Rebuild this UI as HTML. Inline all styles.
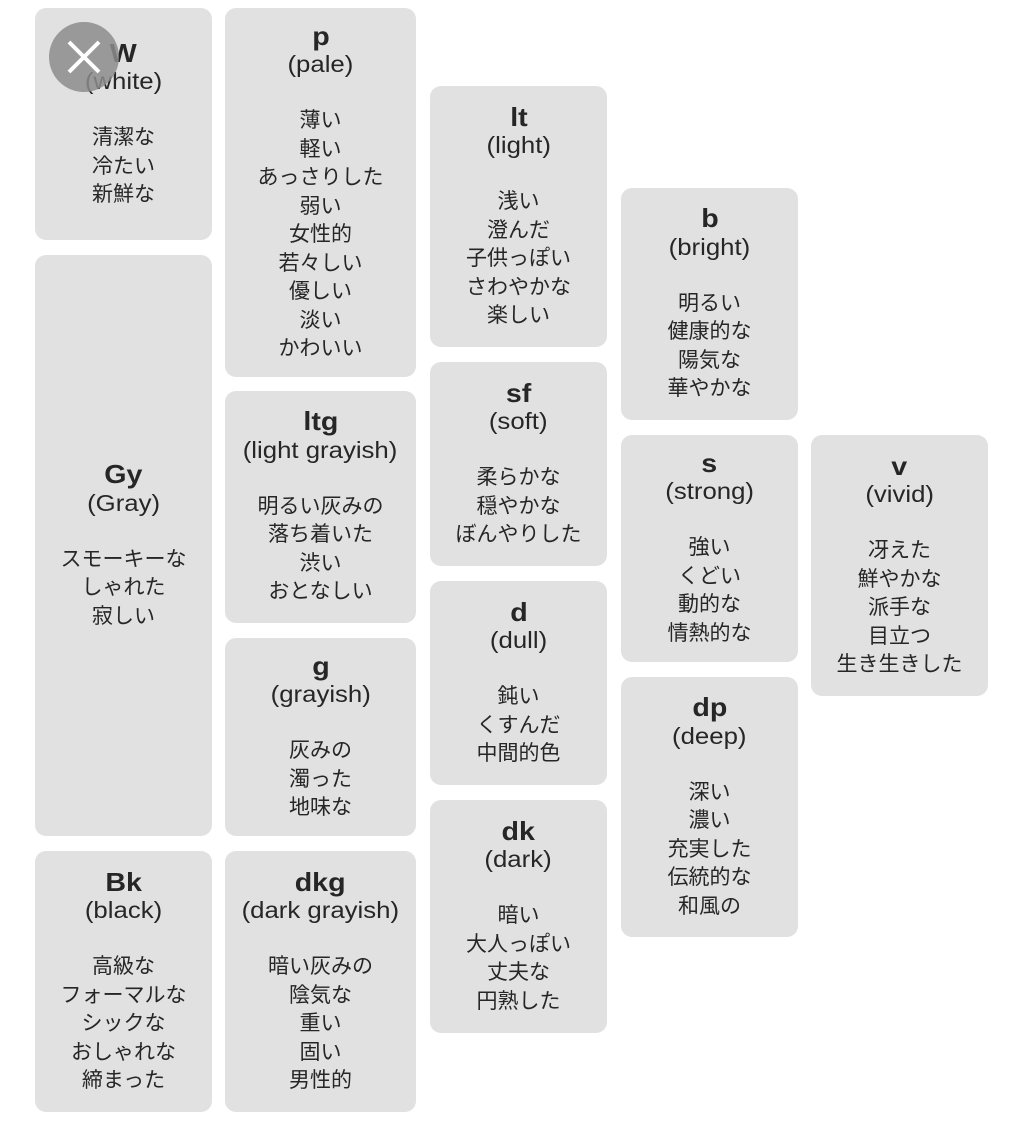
<!DOCTYPE html>
<html><head><meta charset="utf-8"><style>
body{margin:0;width:1024px;height:1125px;background:#fff;position:relative;overflow:hidden;font-family:"Liberation Sans","Noto Sans CJK JP",sans-serif;color:#262626}
.b{position:absolute;background:#e1e1e1;border-radius:11px;display:flex;flex-direction:column;justify-content:center;align-items:center;text-align:center}
.b div{line-height:28.5px;height:28.5px;white-space:nowrap}
.t{font-weight:bold;font-size:26px;transform:scaleX(1.1)}
.s{font-size:23px;transform:scaleX(1.12)}
.j{font-size:21px}
.x{position:absolute;left:49px;top:22px;width:70px;height:70px;border-radius:50%;background:rgba(140,140,140,0.85)}
</style></head><body>
<div class="b" style="left:35px;top:8px;width:177px;height:232px"><div class="t">W</div><div class="s">(white)</div><div></div><div class="j">清潔な</div><div class="j">冷たい</div><div class="j">新鮮な</div></div>
<div class="b" style="left:35px;top:255px;width:177px;height:581px"><div class="t">Gy</div><div class="s">(Gray)</div><div></div><div class="j">スモーキーな</div><div class="j">しゃれた</div><div class="j">寂しい</div></div>
<div class="b" style="left:35px;top:851px;width:177px;height:261px"><div class="t">Bk</div><div class="s">(black)</div><div></div><div class="j">高級な</div><div class="j">フォーマルな</div><div class="j">シックな</div><div class="j">おしゃれな</div><div class="j">締まった</div></div>

<div class="b" style="left:225px;top:8px;width:191px;height:369px"><div class="t">p</div><div class="s">(pale)</div><div></div><div class="j">薄い</div><div class="j">軽い</div><div class="j">あっさりした</div><div class="j">弱い</div><div class="j">女性的</div><div class="j">若々しい</div><div class="j">優しい</div><div class="j">淡い</div><div class="j">かわいい</div></div>
<div class="b" style="left:225px;top:391px;width:191px;height:232px"><div class="t">ltg</div><div class="s">(light grayish)</div><div></div><div class="j">明るい灰みの</div><div class="j">落ち着いた</div><div class="j">渋い</div><div class="j">おとなしい</div></div>
<div class="b" style="left:225px;top:638px;width:191px;height:198px"><div class="t">g</div><div class="s">(grayish)</div><div></div><div class="j">灰みの</div><div class="j">濁った</div><div class="j">地味な</div></div>
<div class="b" style="left:225px;top:851px;width:191px;height:261px"><div class="t">dkg</div><div class="s">(dark grayish)</div><div></div><div class="j">暗い灰みの</div><div class="j">陰気な</div><div class="j">重い</div><div class="j">固い</div><div class="j">男性的</div></div>

<div class="b" style="left:430px;top:86px;width:177px;height:261px"><div class="t">lt</div><div class="s">(light)</div><div></div><div class="j">浅い</div><div class="j">澄んだ</div><div class="j">子供っぽい</div><div class="j">さわやかな</div><div class="j">楽しい</div></div>
<div class="b" style="left:430px;top:362px;width:177px;height:204px"><div class="t">sf</div><div class="s">(soft)</div><div></div><div class="j">柔らかな</div><div class="j">穏やかな</div><div class="j">ぼんやりした</div></div>
<div class="b" style="left:430px;top:581px;width:177px;height:204px"><div class="t">d</div><div class="s">(dull)</div><div></div><div class="j">鈍い</div><div class="j">くすんだ</div><div class="j">中間的色</div></div>
<div class="b" style="left:430px;top:800px;width:177px;height:233px"><div class="t">dk</div><div class="s">(dark)</div><div></div><div class="j">暗い</div><div class="j">大人っぽい</div><div class="j">丈夫な</div><div class="j">円熟した</div></div>

<div class="b" style="left:621px;top:188px;width:177px;height:232px"><div class="t">b</div><div class="s">(bright)</div><div></div><div class="j">明るい</div><div class="j">健康的な</div><div class="j">陽気な</div><div class="j">華やかな</div></div>
<div class="b" style="left:621px;top:435px;width:177px;height:227px"><div class="t">s</div><div class="s">(strong)</div><div></div><div class="j">強い</div><div class="j">くどい</div><div class="j">動的な</div><div class="j">情熱的な</div></div>
<div class="b" style="left:621px;top:677px;width:177px;height:260px"><div class="t">dp</div><div class="s">(deep)</div><div></div><div class="j">深い</div><div class="j">濃い</div><div class="j">充実した</div><div class="j">伝統的な</div><div class="j">和風の</div></div>

<div class="b" style="left:811px;top:435px;width:177px;height:261px"><div class="t">v</div><div class="s">(vivid)</div><div></div><div class="j">冴えた</div><div class="j">鮮やかな</div><div class="j">派手な</div><div class="j">目立つ</div><div class="j">生き生きした</div></div>

<div class="x"><svg width="70" height="70"><path d="M20 20L50 50M50 20L20 50" stroke="#fff" stroke-width="4"/></svg></div>
</body></html>
